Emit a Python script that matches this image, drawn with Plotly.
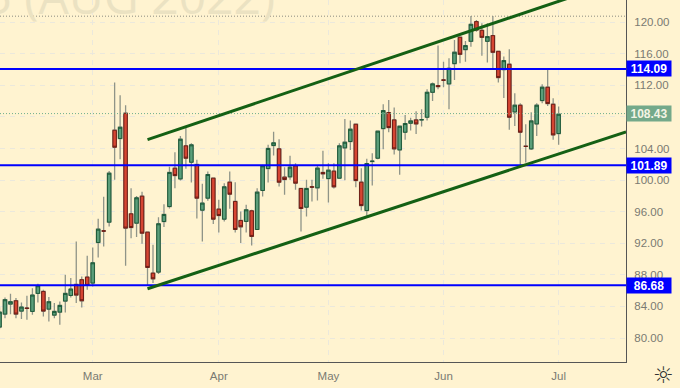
import plotly.graph_objects as go

# Daily candles, index 0 = first trading day of the visible session range
opens = [81.39,83.03,84.30,84.72,83.41,83.79,83.37,85.65,85.90,83.66,82.90,83.28,84.68,85.39,86.79,87.38,87.72,86.96,92.10,93.58,94.68,106.32,105.27,108.47,95.73,94.55,97.97,93.41,88.22,88.35,94.76,96.66,101.51,100.16,104.34,102.27,101.98,96.20,97.72,100.25,96.33,95.06,99.74,97.30,94.89,94.77,96.11,93.75,98.69,101.47,104.39,103.96,100.38,100.42,101.81,98.94,96.58,99.15,99.03,100.97,100.20,101.14,100.25,104.09,104.89,107.08,99.74,96.15,102.36,102.78,106.53,108.56,107.63,103.83,106.07,107.21,107.63,107.63,107.97,111.13,111.98,112.69,112.19,114.76,118.10,116.53,117.59,120.08,118.98,117.59,118.31,116.32,114.00,114.68,108.64,109.49,104.30,103.96,107.12,110.08,111.77,109.61,105.90]
highs = [83.90,85.14,85.60,85.06,84.51,85.35,86.30,86.87,86.11,85.18,84.42,84.63,88.01,87.59,92.23,87.80,90.42,91.47,95.10,97.90,101.17,112.36,110.75,109.50,98.98,98.00,98.52,93.41,91.81,95.31,96.96,101.70,103.54,105.60,106.80,104.68,102.57,99.53,101.10,100.25,97.50,99.62,101.09,99.74,96.03,96.87,96.24,98.98,101.94,104.47,106.12,105.19,101.64,103.08,102.15,98.94,100.04,100.04,101.81,103.71,102.15,102.15,104.68,107.76,107.55,107.08,101.50,102.70,103.41,106.20,109.61,110.16,109.19,106.83,108.26,107.90,108.73,108.98,111.51,112.36,117.04,115.01,115.44,117.76,118.10,117.63,120.79,120.29,119.87,119.87,120.79,116.32,115.65,116.57,111.00,109.74,107.08,108.60,109.74,112.14,113.96,110.37,109.32]
lows = [81.10,82.50,83.00,82.50,82.40,82.30,82.95,84.51,82.74,82.10,82.50,81.68,83.24,85.14,84.42,83.88,86.11,86.53,90.20,91.60,94.13,100.04,102.65,89.15,92.65,92.78,91.94,86.62,86.96,88.10,94.05,96.40,98.98,99.95,101.43,99.70,95.14,92.23,97.38,94.43,93.37,94.77,96.37,93.37,92.02,93.37,91.73,93.75,97.93,99.70,103.12,99.20,98.14,100.04,98.77,93.50,95.40,97.30,97.42,100.17,97.17,98.94,100.25,100.00,103.83,99.10,96.15,95.50,99.32,102.65,103.92,106.07,103.24,100.67,105.10,106.28,105.86,106.79,107.55,110.04,111.51,111.77,108.98,112.69,114.80,115.00,116.91,118.81,115.77,114.89,114.17,112.36,110.41,106.37,106.87,101.60,102.23,103.83,105.60,109.74,109.40,105.10,104.47]
closes = [83.28,84.85,84.59,83.03,83.92,83.76,85.44,86.62,83.41,84.59,83.37,84.13,85.65,86.20,85.44,84.72,86.66,89.53,93.79,93.54,100.88,104.17,106.70,93.92,94.00,97.76,93.28,88.94,87.50,94.47,95.65,100.97,100.58,105.18,102.78,104.47,97.72,97.09,100.71,95.06,95.52,99.15,98.22,93.75,94.09,96.24,92.87,98.48,101.81,104.01,104.72,99.74,100.08,101.64,99.62,96.41,98.94,99.12,101.52,100.80,101.26,99.15,104.34,104.80,106.45,99.95,96.78,102.10,102.40,106.20,108.81,106.66,103.96,106.83,107.17,107.50,107.12,107.66,111.13,112.19,111.85,112.66,114.17,116.20,115.94,117.04,119.74,119.02,118.09,118.18,116.20,112.99,115.14,107.97,109.49,106.07,104.27,107.50,109.49,111.77,109.70,105.73,108.35]
session_index = list(range(-1, 102))

month_labels = ["Mar", "Apr", "May", "Jun", "Jul"]
month_index = [16, 39, 59, 80, 101]
price_ticks = [80, 84, 88, 92, 96, 100, 104, 108, 112, 116, 120]
price_tick_labels = ["80.00", "84.00", "88.00", "92.00", "96.00", "100.00", "104.00", "", "112.00", "116.00", "120.00"]

support_levels = [114.09, 101.89, 86.68]
last_price = 108.43
session_high = 120.77

upper_channel_x = [26, 103]
upper_channel_y = [105.14, 123.12]
lower_channel_x = [26, 113.3]
lower_channel_y = [86.24, 106.12]

x_range = [-0.913, 113.29]
y_range = [76.96, 122.82]

BG = "#fff3d0"
GREEN_FILL = "#5b9e7a"
GREEN_EDGE = "#1d5a38"
RED_FILL = "#d64532"
RED_EDGE = "#6e1d14"
WICK = "#8f9488"
TEXT = "#7a7a72"
BLUE = "#0000ff"
TREND = "#146014"
FONT = "Liberation Sans"

fig = go.Figure()

for level, col in [(session_high, "#8a8a80"), (last_price, "#6fae8c")]:
    fig.add_trace(go.Scatter(x=x_range, y=[level, level], mode="lines", hoverinfo="skip",
                             line=dict(color=col, width=1, dash="1px,2px")))

# wicks
fig.add_trace(go.Candlestick(
    x=session_index, open=opens, high=highs, low=lows, close=closes,
    whiskerwidth=0, hoverinfo="skip",
    increasing=dict(line=dict(color=WICK, width=1.3), fillcolor=WICK),
    decreasing=dict(line=dict(color=WICK, width=1.3), fillcolor=WICK),
))
# bodies
body_high = [max(o, c) for o, c in zip(opens, closes)]
body_low = [min(o, c) for o, c in zip(opens, closes)]
fig.add_trace(go.Candlestick(
    x=session_index, open=opens, high=body_high, low=body_low, close=closes,
    whiskerwidth=0, hoverinfo="skip",
    increasing=dict(line=dict(color=GREEN_EDGE, width=1), fillcolor=GREEN_FILL),
    decreasing=dict(line=dict(color=RED_EDGE, width=1), fillcolor=RED_FILL),
))

for level in support_levels:
    fig.add_trace(go.Scatter(x=x_range, y=[level, level], mode="lines", hoverinfo="skip",
                             line=dict(color=BLUE, width=2)))

for xs, ys in [(upper_channel_x, upper_channel_y), (lower_channel_x, lower_channel_y)]:
    fig.add_trace(go.Scatter(x=xs, y=ys, mode="lines", hoverinfo="skip",
                             line=dict(color=TREND, width=3)))

annotations = [
    dict(text="25 (AUG 2022)", xref="paper", yref="paper", x=277 / 625.6, y=1,
         xanchor="right", yanchor="bottom", yshift=-30, showarrow=False,
         font=dict(family="Open Sans", size=48, color="#ebe2c2")),
    dict(text="\u263c", xref="paper", yref="paper", x=663 / 625.6, y=-13 / 362.3,
         xanchor="center", yanchor="middle", showarrow=False,
         font=dict(family="DejaVu Sans", size=23, color="#333333")),
]
for level in support_levels:
    annotations.append(dict(
        text="<b>%.2f</b>" % level, xref="paper", yref="y", x=1, y=level,
        xanchor="left", yanchor="middle", showarrow=False, bgcolor=BLUE, width=44, height=15,
        font=dict(family=FONT, size=12, color="white"), borderpad=0))
annotations.append(dict(
    text="<b>%.2f</b>" % last_price, xref="paper", yref="y", x=1, y=last_price,
    xanchor="left", yanchor="middle", showarrow=False, bgcolor="#74a98a", width=44, height=15,
    font=dict(family=FONT, size=12, color="#f4f4e4"), borderpad=0))

fig.update_layout(
    width=680, height=388, autosize=False,
    margin=dict(l=0, r=54.4, t=0, b=25.7),
    paper_bgcolor=BG, plot_bgcolor=BG,
    showlegend=False, boxmode="overlay", boxgap=0.1, hovermode=False,
    font=dict(family=FONT, size=11, color=TEXT),
    annotations=annotations,
    xaxis=dict(range=x_range, tickmode="array", tickvals=month_index, ticktext=month_labels,
               rangeslider=dict(visible=False), showgrid=True, gridcolor="#ebe8dc", griddash="5px,5px",
               gridwidth=1, zeroline=False, showline=True, linecolor="#555555", linewidth=1, ticks="",
               ticklabelstandoff=3, tickfont=dict(size=11.5, color=TEXT)),
    yaxis=dict(range=y_range, side="right", tickmode="array", tickvals=price_ticks,
               ticktext=price_tick_labels, showgrid=True, gridcolor="#ebe8dc",
               griddash="5px,5px", gridwidth=1, zeroline=False, showline=True, linecolor="#555555",
               linewidth=1, ticks="", ticklabelstandoff=5, tickfont=dict(size=11.5, color=TEXT)),
)

fig.write_html("out.html", config=dict(displayModeBar=False),
               post_script="document.body.style.margin='0';document.body.style.overflow='hidden';")
